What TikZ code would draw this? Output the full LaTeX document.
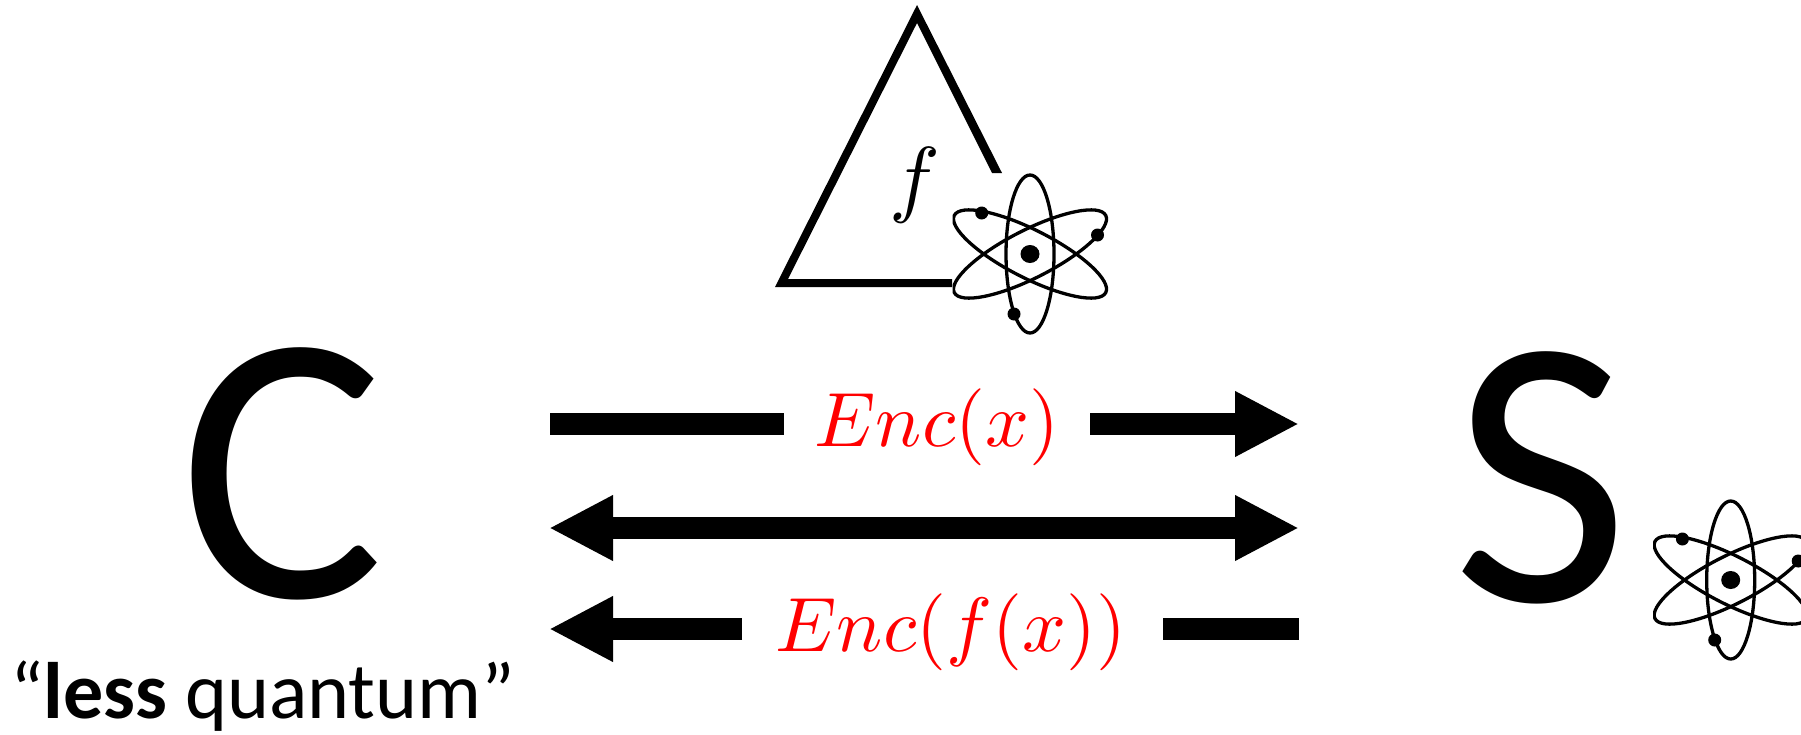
\documentclass[tikz,border=0pt]{standalone}
\usepackage{fontspec}
\setmainfont{Carlito}
\usetikzlibrary{arrows.meta}
\newcommand{\encmath}[1]{\scalebox{7.7}{$#1$}}
\tikzset{
  x=1pt,y=-1pt,
  every node/.style={inner sep=0pt,outer sep=0pt},
  bigletter/.style={font=\fontsize{385}{385}\selectfont},
  enclabel/.style={text=red},
  msg/.style={line width=22pt,draw=black},
  head/.style={-{Triangle[length=64pt,width=61pt]}},
  bothheads/.style={{Triangle[length=64pt,width=61pt]}-{Triangle[length=64pt,width=61pt]}},
  atom/.pic={
    \begin{scope}
      \clip (-77.5,-85) rectangle (78.5,85);
      \draw[line width=3.3pt] (0,0) ellipse [x radius=24,y radius=79];
      \draw[line width=3.3pt,rotate=27] (0,0) ellipse [x radius=85,y radius=24];
      \draw[line width=3.3pt,rotate=-27] (0,0) ellipse [x radius=85,y radius=24];
      \fill (0,0) ellipse [x radius=9.5,y radius=9];
      \fill (-48.3,-41) circle [radius=6.5];
      \fill (67.5,-19) circle [radius=6.5];
      \fill (-16,60) circle [radius=6.5];
    \end{scope}
  }
}
\begin{document}
\begin{tikzpicture}
\useasboundingbox (0,0) rectangle (1801,734);
% triangle
\fill (952,287) -- (775,287) -- (917,5) -- (1002,173) -- (992,173) -- (917,23) -- (788,279) -- (952,279) -- cycle;
\node[anchor=center] (fn) at (915,185) {\scalebox{8.5}{$f$}};
\pic at (1030,254) {atom};
\pic at (1730.7,580) {atom};
% letters
\node[bigletter,anchor=base] (client) at (282,597) {C};
\node[bigletter,anchor=base] (server) at (1541,601) {S};
\node[anchor=base west,font=\fontsize{80}{80}\selectfont] (less) at (10,718) {“\textbf{less} quantum”};
% labels
\node[enclabel] (enc) at (937,427) {\encmath{Enc(x)}};
\node[enclabel] (encf) at (951,632) {\encmath{Enc(f(x))}};
% free ends
\coordinate (a1) at (550,424);
\coordinate (a2) at (784,424);
\coordinate (a3) at (1090,424);
\coordinate (a4) at (1299,424);
\coordinate (b1) at (549,528);
\coordinate (b2) at (1299,528);
\coordinate (c1) at (549,629);
\coordinate (c2) at (742,629);
\coordinate (c3) at (1163,629);
\coordinate (c4) at (1299,629);
\draw[msg] (a1) -- (a2);
\draw[msg,head] (a3) -- (a4);
\draw[msg,bothheads] (b1) -- (b2);
\draw[msg,head] (c2) -- (c1);
\draw[msg] (c3) -- (c4);
\end{tikzpicture}
\end{document}
